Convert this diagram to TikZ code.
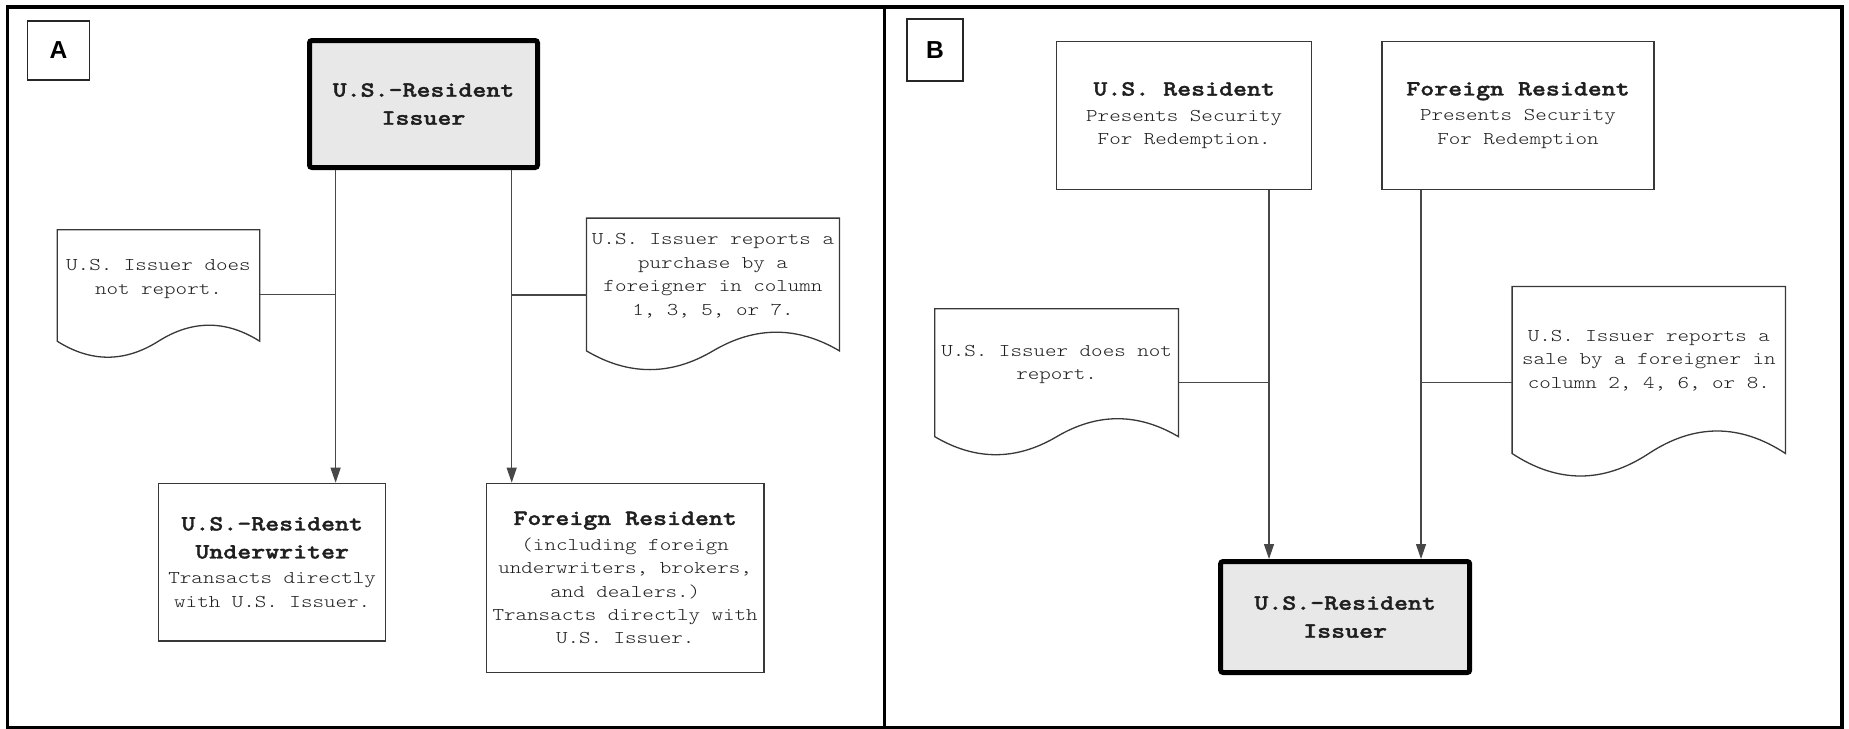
\documentclass[tikz,border=0pt]{standalone}
\usepackage{fontspec}
\newfontfamily\tmono{lmmonolt10-regular}[Extension=.otf, BoldFont=lmmonolt10-bold, FakeStretch=1.22, BoldFeatures={FakeBold=1.5}]
\newfontfamily\labfont{Liberation Sans}
\usetikzlibrary{arrows.meta,calc}
\newcommand\rtext{\tmono\fontsize{18pt}{23.4pt}\selectfont}
\newcommand\btext{\fontsize{21.8pt}{28pt}\selectfont\bfseries}
% document outline: name, lift of side bottom above south, wave deviation
\newcommand\docout[3]{%
  \draw[docline] (#1.north west) -- (#1.north east)
    -- ($(#1.south east)+(0,-#2)$)
    .. controls ($(#1.south east)!1/6!(#1.south west)+(0,-#2-4*#3/3)$)
       and ($(#1.south)!1/3!(#1.south east)+(0,-#2-4*#3/3)$) .. ($(#1.south)+(0,-#2)$)
    .. controls ($(#1.south)!1/3!(#1.south west)+(0,-#2+4*#3/3)$)
       and ($(#1.south west)!1/6!(#1.south east)+(0,-#2+4*#3/3)$) .. ($(#1.south west)+(0,-#2)$)
    -- cycle;}
\tikzset{
  every node/.style={font=\rtext, text=black!88, align=center, inner sep=0pt},
  panel/.style={draw=black, line width=3.8pt},
  plainbox/.style={draw=black!78, line width=1.3pt, fill=white},
  issbox/.style={draw=black, line width=5pt, fill=black!9, rounded corners=2.5pt},
  labbox/.style={draw=black!85, line width=1.3pt, text=black,
    font=\labfont\fontsize{24.6pt}{26pt}\selectfont\bfseries},
  docshape/.style={draw=none, inner sep=0pt},
  docline/.style={draw=black!78, line width=1.3pt, fill=white},
  conn/.style={draw=black!72, line width=1.2pt},
  arr/.style={conn, -{Triangle[length=15pt,width=10pt]}},
}
\begin{document}
\begin{tikzpicture}[x=1pt,y=-1pt]
\useasboundingbox (0,0) rectangle (1849,728);
\fill[white] (0,0) rectangle (1849,728);

% panels
\draw[panel] (7.5,7) rectangle (884.5,727.5);
\draw[panel] (884.5,7) rectangle (1842,727.5);

% x positions of the vertical connectors
\coordinate (xA1) at (335.6,0);
\coordinate (xA2) at (511.7,0);
\coordinate (xB1) at (1269,0);
\coordinate (xB2) at (1421,0);

% ---------- Panel A ----------
\node[labbox, minimum width=61.6pt, minimum height=59pt] (labA) at (58.4,50.5) {A};

\node[issbox, minimum width=228pt, minimum height=127pt] (issA) at (423.5,104)
  {{\btext U.S.-Resident}\\[4.6pt]{\btext Issuer}};

\node[plainbox, minimum width=227pt, minimum height=157.7pt] (uwA) at (272.2,562.2)
  {{\btext U.S.-Resident}\\[4.6pt]{\btext Underwriter}\\[2pt]Transacts directly\\with U.S. Issuer.};

\node[plainbox, minimum width=277.7pt, minimum height=189.2pt] (frA) at (625.2,577.9)
  {{\btext Foreign Resident}\\[2pt](including foreign\\underwriters, brokers,\\and dealers.)\\Transacts directly with\\U.S. Issuer.};

\node[docshape, minimum width=202.1pt, minimum height=128.8pt] (docA1) at (158.45,294.4) {};
\docout{docA1}{17.8}{16}
\node (docA1t) at (158.45,279) {U.S. Issuer does\\not report.};

\node[docshape, minimum width=252.6pt, minimum height=153.2pt] (docA2) at (713,294.9) {};
\docout{docA2}{20.8}{18.7}
\node (docA2t) at (713,275.7) {U.S. Issuer reports a\\purchase by a\\foreigner in column\\1, 3, 5, or 7.};

\draw[arr] (issA.south -| xA1) -- (uwA.north -| xA1);
\draw[arr] (issA.south -| xA2) -- (frA.north -| xA2);
\draw[conn] (docA1.east) -- (docA1.east -| xA1);
\draw[conn] (docA2.west) -- (docA2.west -| xA2);

% ---------- Panel B ----------
\node[labbox, minimum width=56pt, minimum height=62pt] (labB) at (935,50) {B};

\node[plainbox, minimum width=255pt, minimum height=148pt] (usB) at (1184.2,115.3)
  {{\btext U.S. Resident}\\[2pt]Presents Security\\For Redemption.};

\node[plainbox, minimum width=272pt, minimum height=148pt] (frB) at (1518,115.3)
  {{\btext Foreign Resident}\\[2pt]Presents Security\\For Redemption};

\node[issbox, minimum width=249.1pt, minimum height=111pt] (issB) at (1345.15,617)
  {{\btext U.S.-Resident}\\[4.6pt]{\btext Issuer}};

\node[docshape, minimum width=243.3pt, minimum height=147.5pt] (docB1) at (1056.65,382.75) {};
\docout{docB1}{20}{18}
\node (docB1t) at (1056.65,364.5) {U.S. Issuer does not\\report.};

\node[docshape, minimum width=273pt, minimum height=191.6pt] (docB2) at (1648.8,382.5) {};
\docout{docB2}{25}{22.5}
\node (docB2t) at (1648.8,360.3) {U.S. Issuer reports a\\sale by a foreigner in\\column 2, 4, 6, or 8.};

\draw[arr] (usB.south -| xB1) -- (issB.north -| xB1);
\draw[arr] (frB.south -| xB2) -- (issB.north -| xB2);
\draw[conn] (docB1.east) -- (docB1.east -| xB1);
\draw[conn] (docB2.west) -- (docB2.west -| xB2);
\end{tikzpicture}
\end{document}
